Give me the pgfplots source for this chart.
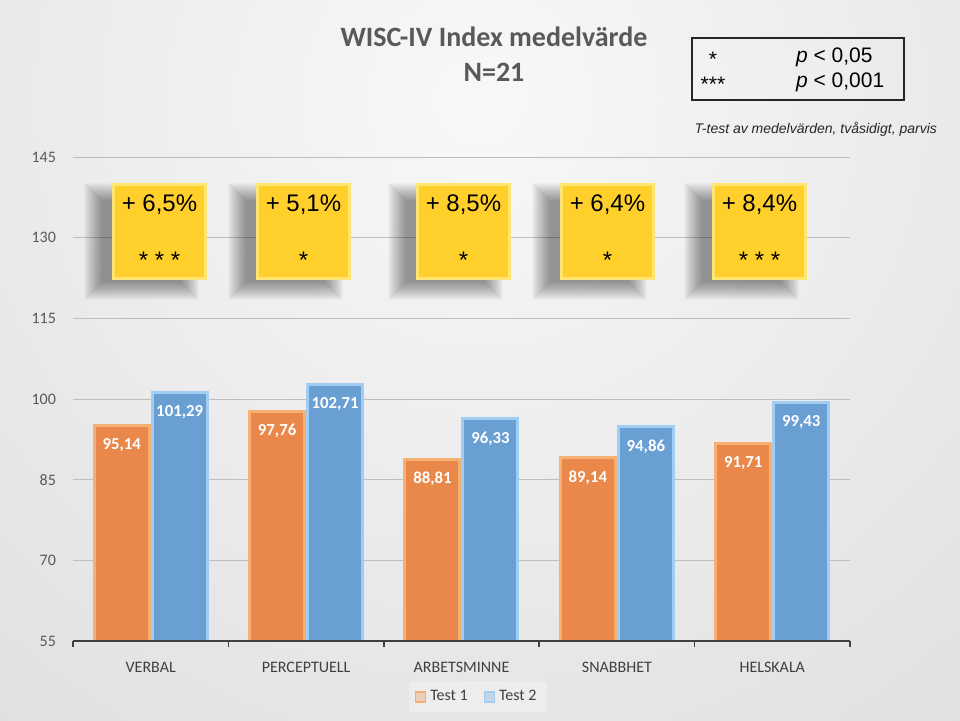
\documentclass[border=0pt]{standalone}
\usepackage{fontspec}
\setmainfont{Carlito}
\newfontfamily\arial{Liberation Sans}
\usepackage{pgfplots}
\pgfplotsset{compat=1.18}

\definecolor{bgin}{HTML}{F8F8F8}
\definecolor{bgout}{HTML}{C2C2C2}
\definecolor{orbar}{HTML}{E9884A}
\definecolor{oredge}{HTML}{F7B074}
\definecolor{blbar}{HTML}{6A9FD4}
\definecolor{bledge}{HTML}{A2CDF2}
\definecolor{txtgray}{HTML}{595959}
\definecolor{catgray}{HTML}{404040}
\definecolor{gridgray}{HTML}{BEBEBE}
\definecolor{boxyel}{HTML}{FFD02C}
\definecolor{boxedge}{HTML}{FFE572}

% yellow annotation box: centre x (px), percentage, stars
\newcommand\ybox[3]{%
  \foreach \r in {-8,...,10} {
    \fill[black,opacity=0.022] (#1-65.5-\r,430-\r) rectangle (#1+29.5+\r,527+\r);
  }
  \fill[boxyel] (#1-47.5,440) rectangle (#1+47.5,537);
  \draw[boxedge,line width=1.5pt] (#1-46,441.5) rectangle (#1+46,535.5);
  \node[font=\arial\fontsize{12}{14}\selectfont] at (#1,515) {+ #2\%};
  \node[font=\arial\fontsize{12}{14}\selectfont] at (#1,460) {#3};
}

\begin{document}
\begin{tikzpicture}[x=0.5pt,y=0.5pt]
\useasboundingbox (0,0) rectangle (960,720);
\begin{scope}
  \clip (0,0) rectangle (960,720);
  \shade[inner color=bgin, outer color=bgout] (480-1800,620-1800) rectangle (480+1800,620+1800);
\end{scope}

\begin{axis}[
  at={(36.5pt,39.5pt)}, anchor=south west,
  scale only axis, width=388.5pt, height=242pt,
  xmin=-0.5, xmax=4.5, ymin=55, ymax=145,
  ytick={55,70,...,145},
  xtick={0,...,4},
  xticklabels={VERBAL,PERCEPTUELL,ARBETSMINNE,SNABBHET,HELSKALA},
  x tick style={draw=none}, y tick style={draw=none},
  xtick pos=bottom,
  extra x ticks={-0.5,0.5,...,4.5}, extra x tick labels={},
  extra x tick style={x tick style={draw=catgray,line width=0.75pt},
                      major tick length=3pt, tick align=outside},
  axis line style={draw=none},
  ymajorgrids, grid style={draw=gridgray,line width=0.5pt},
  /pgf/number format/assume math mode=true,
  yticklabel style={font=\fontsize{8}{9}\selectfont, text=txtgray, xshift=-5pt},
  xticklabel style={font=\fontsize{8}{9}\selectfont, text=catgray, yshift=-3pt},
  ybar=1.5pt, bar width=27.5pt,
  nodes near coords={\pgfmathprintnumber[use comma,fixed,fixed zerofill,precision=2]{\pgfplotspointmeta}},
  nodes near coords style={font=\bfseries\fontsize{8.4}{10}\selectfont, text=white, anchor=north, yshift=-2.5pt},
  legend style={at={(0.521,-0.1157)}, anchor=center, legend columns=2,
    fill=white, fill opacity=0.3, text opacity=1, draw=none,
    font=\fontsize{8}{9}\selectfont, text=catgray,
    /tikz/every even column/.append style={column sep=6pt}},
  legend image code/.code={\draw[#1,line width=0.6pt] (0pt,-2.5pt) rectangle (5pt,2.5pt);},
]
\addplot[fill=orbar, draw=oredge, line width=1.5pt]
  coordinates {(0,95.14) (1,97.76) (2,88.81) (3,89.14) (4,91.71)};
\addlegendentry{Test 1}
\addplot[fill=blbar, draw=bledge, line width=1.5pt]
  coordinates {(0,101.29) (1,102.71) (2,96.33) (3,94.86) (4,99.43)};
\addlegendentry{Test 2}
\draw[catgray,line width=0.75pt] (rel axis cs:0,0) -- (rel axis cs:1,0);
\end{axis}

\ybox{159.5}{6,5}{* * *}
\ybox{303.5}{5,1}{*}
\ybox{463.5}{8,5}{*}
\ybox{607.5}{6,4}{*}
\ybox{759.5}{8,4}{* * *}

% title
\node[font=\bfseries\fontsize{14}{16}\selectfont, text=txtgray] at (494,683) {WISC-IV Index medelvärde};
\node[font=\bfseries\fontsize{14}{16}\selectfont, text=txtgray] at (494,648) {N=21};

% significance key
\draw[line width=0.75pt, black!85] (692,620) rectangle (904,682);
\node[font=\arial\fontsize{10.5}{12}\selectfont] at (713,661) {*};
\node[font=\arial\fontsize{10.5}{12}\selectfont] at (713,636) {***};
\node[anchor=west, font=\arial\fontsize{10.5}{12}\selectfont] at (789,663) {\textit{p} < 0,05};
\node[anchor=west, font=\arial\fontsize{10.5}{12}\selectfont] at (789,638) {\textit{p} < 0,001};
\node[anchor=east, font=\arial\itshape\fontsize{7}{8}\selectfont, text=black!85] at (944,591) {T-test av medelvärden, tvåsidigt, parvis};
\end{tikzpicture}
\end{document}
